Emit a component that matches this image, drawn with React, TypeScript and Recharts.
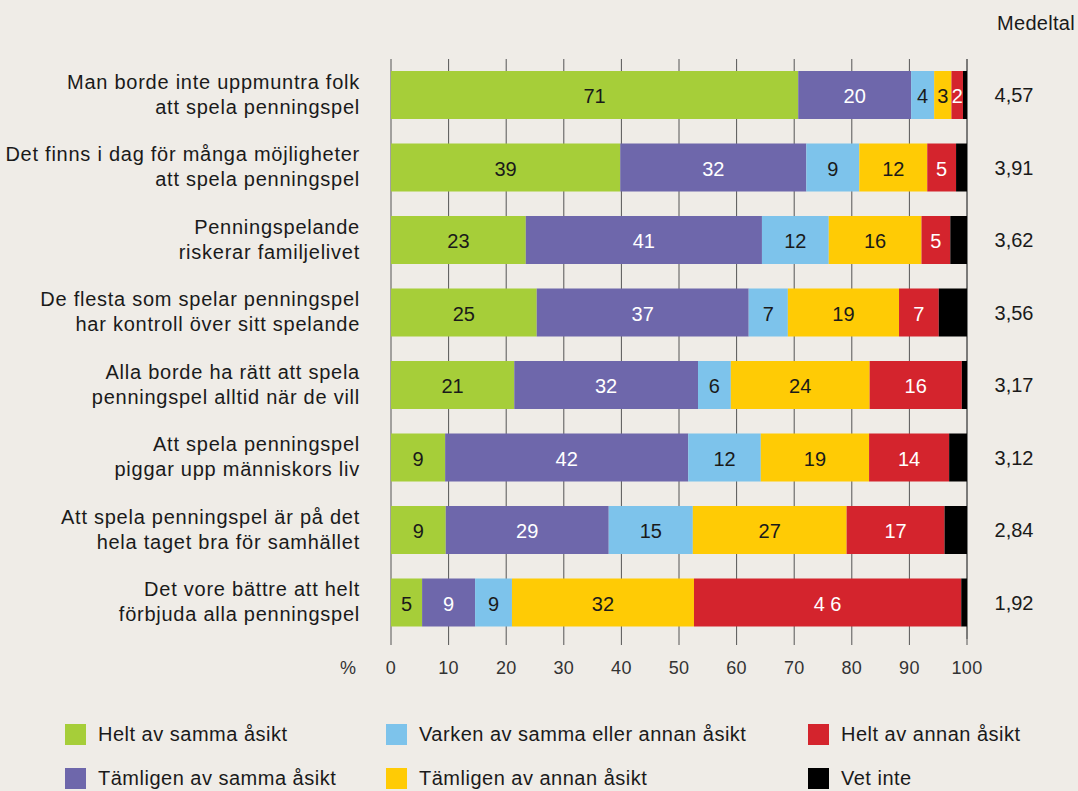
import React from "react";
import {
  BarChart,
  Bar,
  XAxis,
  YAxis,
  CartesianGrid,
  LabelList,
} from "recharts";

// statements (two lines each)
const categories = [
  "Man borde inte uppmuntra folk\natt spela penningspel",
  "Det finns i dag för många möjligheter\natt spela penningspel",
  "Penningspelande\nriskerar familjelivet",
  "De flesta som spelar penningspel\nhar kontroll över sitt spelande",
  "Alla borde ha rätt att spela\npenningspel alltid när de vill",
  "Att spela penningspel\npiggar upp människors liv",
  "Att spela penningspel är på det\nhela taget bra för samhället",
  "Det vore bättre att helt\nförbjuda alla penningspel",
];

const means = ["4,57", "3,91", "3,62", "3,56", "3,17", "3,12", "2,84", "1,92"];

// segment widths (percent)
const heltSamma = [70.7, 39.8, 23.4, 25.3, 21.4, 9.4, 9.5, 5.4];
const tamligenSamma = [19.6, 32.3, 41.0, 36.8, 31.9, 42.2, 28.3, 9.2];
const varken = [4.0, 9.2, 11.6, 6.8, 5.7, 12.6, 14.6, 6.4];
const tamligenAnnan = [3.0, 11.8, 16.1, 19.3, 24.1, 18.8, 26.7, 31.6];
const heltAnnan = [2.0, 5.0, 5.0, 6.9, 16.0, 13.9, 17.0, 46.4];
const vetInte = [0.7, 1.9, 2.9, 4.9, 0.9, 3.1, 3.9, 1.0];

// printed numbers in the bars
const heltSammaLbl = ["71", "39", "23", "25", "21", "9", "9", "5"];
const tamligenSammaLbl = ["20", "32", "41", "37", "32", "42", "29", "9"];
const varkenLbl = ["4", "9", "12", "7", "6", "12", "15", "9"];
const tamligenAnnanLbl = ["3", "12", "16", "19", "24", "19", "27", "32"];
const heltAnnanLbl = ["2", "5", "5", "7", "16", "14", "17", "4 6"];

const xTicks = [0, 10, 20, 30, 40, 50, 60, 70, 80, 90, 100];

const FONT = "'Liberation Sans', Arial, Helvetica, sans-serif";

const series = [
  { key: "a", name: "Helt av samma åsikt", color: "#a6ce39", text: "#1a1a1a", vals: heltSamma, lbl: heltSammaLbl },
  { key: "b", name: "Tämligen av samma åsikt", color: "#6e67ab", text: "#ffffff", vals: tamligenSamma, lbl: tamligenSammaLbl },
  { key: "c", name: "Varken av samma eller annan åsikt", color: "#7dc3eb", text: "#1a1a1a", vals: varken, lbl: varkenLbl },
  { key: "d", name: "Tämligen av annan åsikt", color: "#ffcb05", text: "#1a1a1a", vals: tamligenAnnan, lbl: tamligenAnnanLbl },
  { key: "e", name: "Helt av annan åsikt", color: "#d4242d", text: "#ffffff", vals: heltAnnan, lbl: heltAnnanLbl },
  { key: "f", name: "Vet inte", color: "#000000", text: "#ffffff", vals: vetInte, lbl: null as string[] | null },
];

const data = categories.map((name, i) => {
  const row: Record<string, string | number> = { name };
  series.forEach((s) => {
    row[s.key] = s.vals[i];
    if (s.lbl) row[s.key + "Lbl"] = s.lbl[i];
  });
  return row;
});

const LeftTick = (props: any) => {
  const { x, y, payload } = props;
  const lines = String(payload.value).split("\n");
  return (
    <text x={x} y={y} textAnchor="end" fontFamily={FONT} fontSize={20} fill="#1a1a1a" letterSpacing={0.75}>
      {lines.map((l, i) => (
        <tspan key={i} x={x} dy={i === 0 ? -6.5 : 25}>
          {l}
        </tspan>
      ))}
    </text>
  );
};

const RightTick = (props: any) => {
  const { x, y, payload } = props;
  const idx = categories.indexOf(payload.value);
  return (
    <text x={x + 47} y={y + 7} textAnchor="middle" fontFamily={FONT} fontSize={20} fill="#1a1a1a">
      {means[idx]}
    </text>
  );
};

const BottomTick = (props: any) => {
  const { x, y, payload } = props;
  return (
    <g>
      <text x={x} y={y + 27} textAnchor="middle" fontFamily={FONT} fontSize={18} fill="#333" letterSpacing={0.3}>
        {payload.value}
      </text>
      {payload.value === 0 && (
        <text x={x - 43} y={y + 27} textAnchor="middle" fontFamily={FONT} fontSize={18} fill="#333">
          %
        </text>
      )}
    </g>
  );
};

const makeLabel = (textColor: string) => (props: any) => {
  const { x, y, width, height, value } = props;
  if (value === undefined || value === null) return null;
  return (
    <text
      x={x + width / 2}
      y={y + height / 2 + 8}
      textAnchor="middle"
      fontFamily={FONT}
      fontSize={20}
      fill={textColor}
    >
      {value}
    </text>
  );
};

const legendCols = [65, 386, 808];

export default function App() {
  return (
    <div
      style={{
        position: "absolute",
        left: 0,
        top: 0,
        width: 1078,
        height: 791,
        background: "#efece7",
        fontFamily: FONT,
        overflow: "hidden",
      }}
    >
      <div
        style={{
          position: "absolute",
          right: 3,
          top: 12,
          fontSize: 20,
          color: "#1a1a1a",
          letterSpacing: 0.3,
        }}
      >
        Medeltal
      </div>
      <BarChart
        width={1078}
        height={791}
        data={data}
        layout="vertical"
        margin={{ top: 59, right: 0, bottom: 112, left: 0 }}
        barSize={48}
      >
        <CartesianGrid horizontal={false} vertical stroke="#555" strokeWidth={1} />
        <XAxis
          type="number"
          domain={[0, 100]}
          ticks={xTicks}
          interval={0}
          axisLine={false}
          tickSize={6}
          tickLine={{ stroke: "#555" }}
          tick={<BottomTick />}
          height={40}
        />
        <YAxis
          type="category"
          dataKey="name"
          width={391}
          axisLine={false}
          tickLine={false}
          tickSize={0}
          tickMargin={31}
          interval={0}
          tick={<LeftTick />}
        />
        <YAxis
          yAxisId="right"
          orientation="right"
          type="category"
          dataKey="name"
          width={111}
          axisLine={false}
          tickLine={false}
          tickSize={0}
          tickMargin={0}
          interval={0}
          tick={<RightTick />}
        />
        {series.map((s) => (
          <Bar key={s.key} dataKey={s.key} name={s.name} stackId="s" fill={s.color} isAnimationActive={false}>
            {s.lbl && <LabelList dataKey={s.key + "Lbl"} content={makeLabel(s.text)} />}
          </Bar>
        ))}
      </BarChart>
      {series.map((s, i) => {
        const c = Math.floor(i / 2);
        const r = i % 2;
        return (
          <div
            key={s.key}
            style={{
              position: "absolute",
              left: legendCols[c],
              top: 724 + r * 44,
              display: "flex",
              alignItems: "center",
              height: 21,
            }}
          >
            <span style={{ display: "inline-block", width: 21, height: 21, background: s.color }} />
            <span style={{ marginLeft: 12, fontSize: 20, letterSpacing: 0.5, color: "#1a1a1a", whiteSpace: "nowrap" }}>
              {s.name}
            </span>
          </div>
        );
      })}
    </div>
  );
}
